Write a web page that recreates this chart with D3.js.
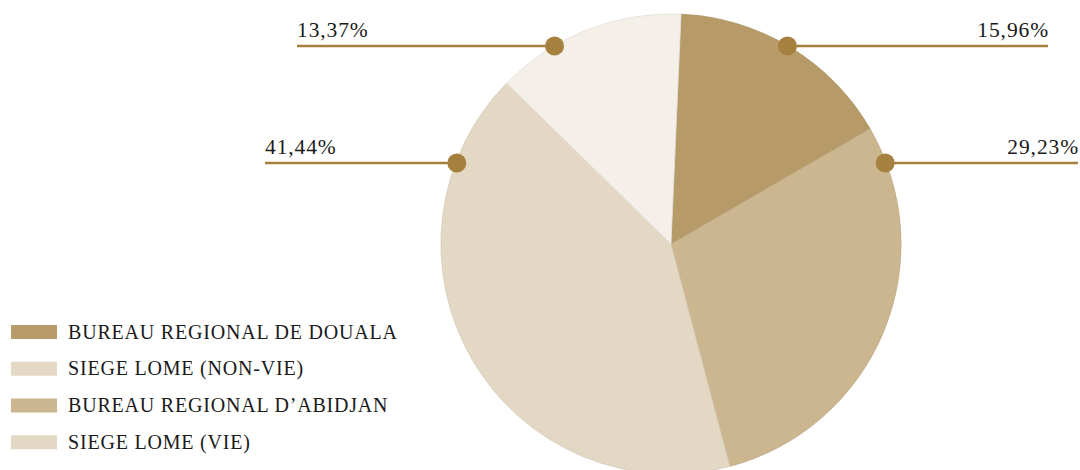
<!DOCTYPE html>
<html>
<head>
<meta charset="utf-8">
<script src="https://cdn.jsdelivr.net/npm/d3@7"></script>
<style>
  html, body { margin: 0; padding: 0; background: #fff; }
  svg { display: block; }
  text { font-family: "Liberation Serif", "Times New Roman", serif; fill: #1a1a1a; }
</style>
</head>
<body>
<svg id="chart" width="1080" height="470"></svg>
<script>
// slices, clockwise from the top
const sliceNames = ["BUREAU REGIONAL DE DOUALA", "BUREAU REGIONAL D\u2019ABIDJAN", "SIEGE LOME (VIE)", "SIEGE LOME (NON-VIE)"];
const sliceValues = [15.96, 29.23, 41.44, 13.37];
const sliceColors = ["#b69b68", "#cbb690", "#e3d8c4", "#f4f0e9"];

// legend as printed
const legendNames = ["BUREAU REGIONAL DE DOUALA", "SIEGE LOME (NON-VIE)", "BUREAU REGIONAL D\u2019ABIDJAN", "SIEGE LOME (VIE)"];
const legendColors = ["#b69b68", "#e3d9c5", "#cbb690", "#e3d8c4"];

// callout labels: which slice, side, label line height
const labelSlices = [0, 1, 2, 3];
const labelSide = ["right", "right", "left", "left"];
const labelRows = [46, 163, 163, 46];
const labelEnds = [1048, 1078, 265, 297];

const svg = d3.select("#chart");
const cx = 671, cy = 244, radius = 230;
const accent = "#a6803f";

const pie = d3.pie().sort(null).value((d) => d)
  .startAngle(2.5 * Math.PI / 180)
  .endAngle(2 * Math.PI + 2.5 * Math.PI / 180);
const arc = d3.arc().innerRadius(0).outerRadius(radius);
const arcs = pie(sliceValues);

const plot = svg.append("g").attr("transform", `translate(${cx},${cy})`);

plot.selectAll(".slice")
  .data(arcs)
  .join("path")
  .attr("class", "slice")
  .attr("d", arc)
  .attr("fill", (d, i) => sliceColors[i])
  .attr("stroke", (d, i) => d3.color(sliceColors[i]).darker(0.2))
  .attr("stroke-width", 0.8);

// callouts
const fmt = (v) => d3.format(".2f")(v).replace(".", ",") + "%";
const callouts = labelSlices.map((s, i) => {
  const dy = labelRows[i] - cy;
  const dx = Math.sqrt(radius * radius - dy * dy) * (labelSide[i] === "right" ? 1 : -1) * 0.995;
  return { value: sliceValues[s], side: labelSide[i], y: labelRows[i], dotX: cx + dx, endX: labelEnds[i] };
});

const co = svg.append("g").attr("class", "callouts");
co.selectAll("line")
  .data(callouts)
  .join("line")
  .attr("x1", (d) => d.dotX)
  .attr("x2", (d) => d.endX)
  .attr("y1", (d) => d.y)
  .attr("y2", (d) => d.y)
  .attr("stroke", accent)
  .attr("stroke-width", 2.6);

co.selectAll("circle")
  .data(callouts)
  .join("circle")
  .attr("cx", (d) => d.dotX)
  .attr("cy", (d) => d.y)
  .attr("r", 9.5)
  .attr("fill", accent);

co.selectAll("text")
  .data(callouts)
  .join("text")
  .attr("x", (d) => (d.side === "right" ? d.endX + 1 : d.endX))
  .attr("y", (d) => d.y - 9.5)
  .attr("text-anchor", (d) => (d.side === "right" ? "end" : "start"))
  .attr("font-size", 21.5)
  .attr("letter-spacing", 0.9)
  .text((d) => fmt(d.value));

// legend
const ly = d3.scaleBand().domain(legendNames).range([318, 465]);
const legend = svg.append("g").attr("class", "legend");
legend.selectAll("rect")
  .data(legendNames)
  .join("rect")
  .attr("x", 11)
  .attr("y", (d) => ly(d) + 7)
  .attr("width", 46)
  .attr("height", 14)
  .attr("fill", (d, i) => legendColors[i]);

legend.selectAll("text")
  .data(legendNames)
  .join("text")
  .attr("x", 68)
  .attr("y", (d) => ly(d) + 20.5)
  .attr("font-size", 20)
  .attr("letter-spacing", 0.8)
  .text((d) => d);
</script>
</body>
</html>
